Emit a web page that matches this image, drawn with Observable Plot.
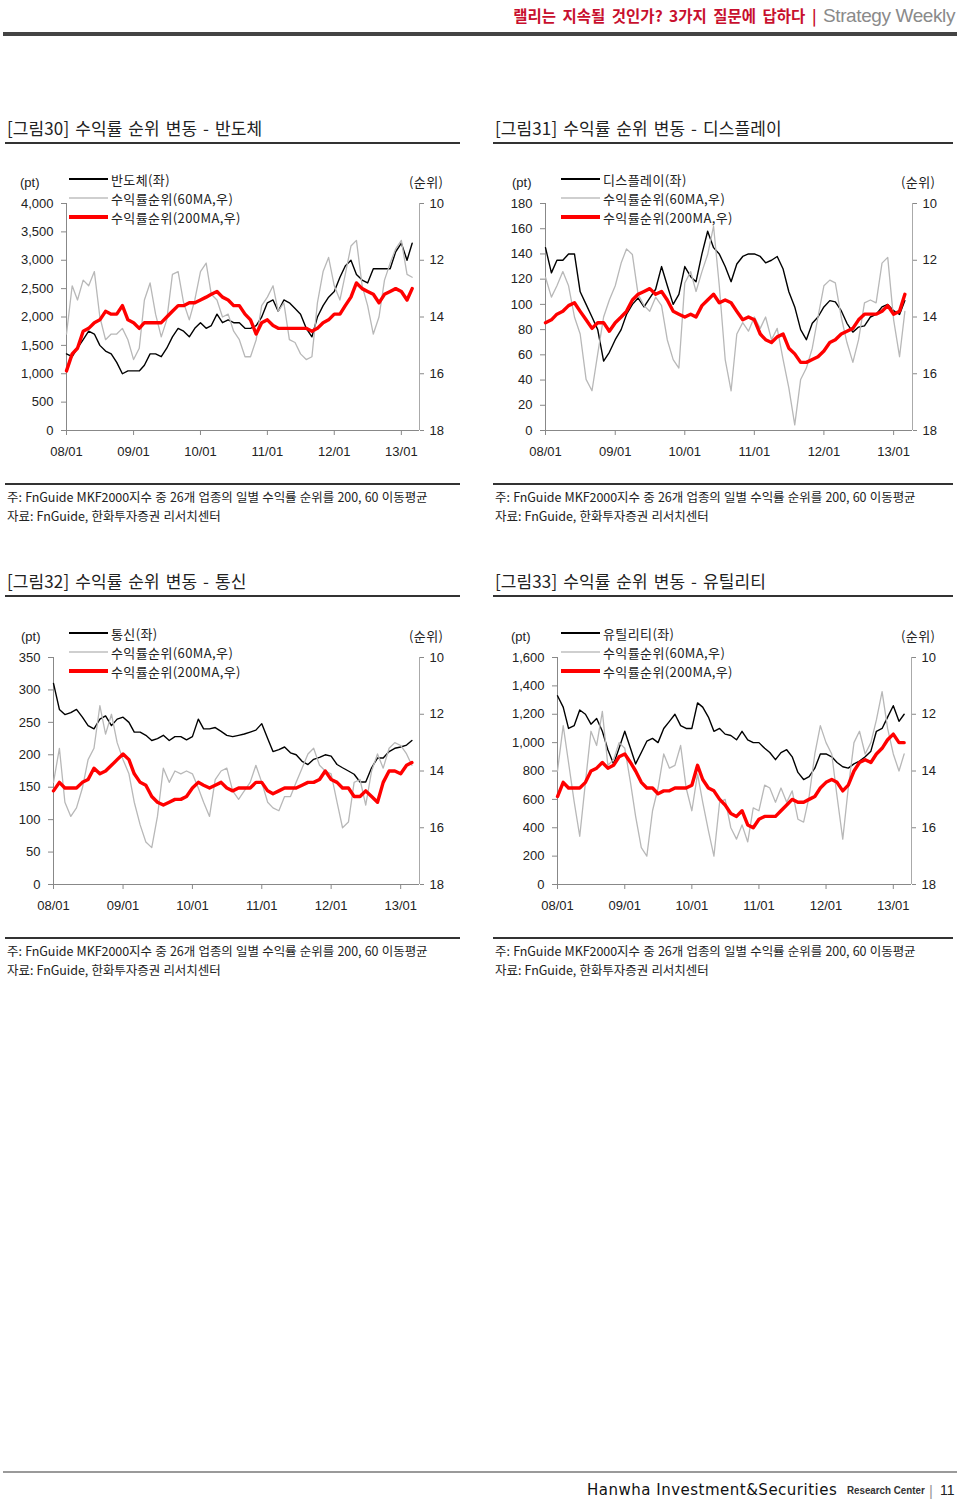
<!DOCTYPE html>
<html><head><meta charset="utf-8">
<script src="https://cdn.jsdelivr.net/npm/d3@7"></script>
<script src="https://cdn.jsdelivr.net/npm/@observablehq/plot@0.6"></script>
<style>
body{margin:0;background:#fff;}
#page{position:relative;width:960px;height:1501px;overflow:hidden;background:#fff;font-family:"Noto Sans CJK KR","Noto Sans",sans-serif;color:#222;}
.a{position:absolute;white-space:nowrap;}
.vc{transform:translateY(-50%);line-height:1;}
.title{font-size:17px;color:#222;word-spacing:2px;letter-spacing:0.1px;}
.note{font-size:12.5px;letter-spacing:-0.05px;word-spacing:0.5px;color:#222;}
.hr{position:absolute;background:#333;}
.lg{font-size:13px;letter-spacing:0.4px;color:#222;}
.ax{font-family:"Liberation Sans",Arial,sans-serif;font-size:13px;color:#222;}
</style></head>
<body><div id="page"></div>
<script>
// ---------- data ----------
const months = d3.utcMonth.range(new Date("2008-01-01"), new Date("2013-04-01")); // 2008-01 .. 2013-03
const yearTicks = [2008,2009,2010,2011,2012,2013].map(y => new Date(Date.UTC(y,0,1)));
const xDomain = [new Date("2008-01-01"), new Date("2013-04-10")];
const rankTicks = [10,12,14,16,18];

// 반도체
const semiPrice = [1350,1300,1450,1600,1750,1700,1500,1400,1350,1200,1000,1050,
 1050,1050,1150,1350,1350,1300,1450,1650,1800,1750,1650,1800,
 1900,1800,1850,2050,1900,1950,1900,1900,1800,1800,1850,2000,
 2250,2300,2100,2300,2250,2150,2050,1800,1650,2000,2200,2350,
 2450,2700,2900,3000,2750,2650,2600,2850,2850,2850,2850,3150,
 3300,3000,3300];
const semiRank60 = [14.6,12.9,13.4,12.7,12.9,12.4,14.0,14.8,14.6,14.6,14.4,14.8,
 15.5,15.1,13.4,12.8,13.9,14.7,14.1,12.5,12.4,13.5,14.1,13.4,
 12.4,12.1,13.2,13.4,14.0,13.9,14.5,14.8,15.4,15.4,14.8,13.6,
 13.3,12.9,13.8,13.5,14.8,14.9,15.3,15.5,15.4,13.5,12.4,11.9,
 12.9,13.4,12.5,11.5,11.3,12.9,13.6,14.6,14.0,12.7,12.1,11.6,
 11.3,12.5,12.6];
const semiRank200 = [15.9,15.3,15.1,14.5,14.4,14.2,14.1,13.8,13.9,13.9,13.6,14.1,
 14.2,14.4,14.2,14.2,14.2,14.2,14.0,13.8,13.6,13.6,13.5,13.5,
 13.4,13.3,13.2,13.1,13.3,13.4,13.6,13.6,13.9,14.1,14.6,14.2,
 14.1,14.3,14.4,14.4,14.4,14.4,14.4,14.4,14.5,14.4,14.2,14.1,
 13.9,13.9,13.6,13.3,12.8,13.0,13.1,13.2,13.5,13.2,13.1,13.0,
 13.1,13.4,13.0];

// 디스플레이
const dispPrice = [145,125,135,135,140,140,110,100,90,80,55,62,
 72,80,92,100,105,98,105,112,130,115,100,108,
 130,122,118,140,158,145,140,130,118,132,138,140,
 140,138,133,135,138,128,110,98,80,72,85,90,
 98,103,102,95,85,78,82,83,90,92,98,100,
 95,92,103];
const dispRank60 = [12.6,13.3,12.9,12.4,12.9,14.0,14.6,16.2,16.6,15.3,14.0,13.4,
 12.9,12.1,11.6,11.8,13.2,13.6,13.8,13.3,13.6,14.8,15.5,15.8,
 12.8,12.4,13.1,12.4,11.8,10.8,12.9,15.5,16.6,14.6,14.2,14.5,
 14.0,14.4,14.0,14.8,14.4,15.5,16.5,17.8,16.2,15.8,15.1,14.0,
 12.9,12.7,12.8,14.0,14.9,15.6,14.8,13.5,13.4,13.5,12.1,11.9,
 14.1,15.4,13.8];
const dispRank200 = [14.2,14.1,13.9,13.8,13.6,13.5,13.8,14.1,14.4,14.2,14.2,14.5,
 14.2,14.0,13.8,13.4,13.2,13.1,13.0,13.2,13.1,13.4,13.8,13.9,
 14.0,13.9,14.0,13.6,13.4,13.2,13.5,13.4,13.5,13.8,14.1,14.0,
 14.1,14.6,14.8,14.9,14.7,14.6,15.1,15.3,15.6,15.6,15.5,15.4,
 15.2,14.9,14.8,14.6,14.5,14.4,14.1,13.9,13.9,13.9,13.8,13.6,
 13.9,13.8,13.2];

// 통신
const telPrice = [310,270,262,265,270,258,245,240,255,260,245,255,
 258,250,235,235,230,222,225,230,222,228,228,223,
 228,255,240,240,242,236,230,228,230,232,235,238,
 248,225,205,208,212,203,200,190,185,193,196,200,
 198,185,180,175,170,158,158,180,195,195,205,210,
 212,215,222];
const telRank60 = [14.4,13.2,15.1,15.6,15.3,14.6,13.6,13.2,11.7,12.7,12.0,13.0,
 13.6,14.1,15.1,15.9,16.5,16.7,15.6,13.9,14.4,14.0,14.1,14.0,
 14.1,14.6,15.1,15.6,14.3,14.0,13.9,14.7,15.0,14.7,14.4,13.8,
 14.4,15.1,15.3,15.4,14.9,14.9,14.4,13.9,13.4,13.2,13.8,14.0,
 14.1,15.1,16.0,15.8,14.4,14.3,15.2,14.0,13.4,13.9,13.2,13.0,
 13.1,13.4,13.8];
const telRank200 = [14.7,14.4,14.6,14.6,14.6,14.4,14.3,13.9,14.1,14.0,13.8,13.6,
 13.4,13.6,14.1,14.4,14.5,14.9,15.1,15.2,15.1,15.0,15.0,14.9,
 14.6,14.4,14.5,14.6,14.5,14.4,14.6,14.7,14.6,14.6,14.6,14.4,
 14.4,14.7,14.8,14.7,14.6,14.6,14.6,14.5,14.4,14.4,14.3,14.0,
 14.3,14.4,14.6,14.6,14.9,14.9,14.7,14.9,15.1,14.4,14.0,14.0,
 14.1,13.8,13.7];

// 유틸리티
const utilPrice = [1330,1250,1100,1120,1230,1200,1130,1170,1080,950,850,960,
 1080,960,850,930,1010,1030,1000,1100,1150,1200,1120,1100,
 1100,1280,1250,1180,1080,1100,1060,1050,1020,1080,1020,1000,
 1000,960,930,880,930,950,900,790,740,760,820,920,
 920,900,860,830,820,850,870,900,940,1080,1100,1180,
 1260,1150,1200];
const utilRank60 = [14.0,12.4,13.7,15.1,16.3,14.4,12.6,13.1,11.9,13.8,13.6,13.0,
 13.2,14.4,15.6,16.7,17.0,15.4,14.6,13.4,13.9,13.8,13.1,14.6,
 15.4,14.1,15.1,16.1,17.0,15.1,15.0,16.0,16.4,15.9,16.5,15.3,
 15.4,14.5,14.6,15.1,14.6,15.1,14.7,15.7,15.8,14.9,13.4,12.4,
 13.0,13.4,14.9,16.4,14.6,13.0,12.6,13.4,13.0,12.2,11.2,12.5,
 13.4,14.0,13.4];
const utilRank200 = [14.9,14.4,14.6,14.6,14.6,14.4,14.0,13.9,13.7,13.9,13.8,13.5,
 13.4,13.7,14.0,14.4,14.6,14.6,14.8,14.7,14.7,14.6,14.6,14.6,
 14.5,13.8,14.3,14.6,14.7,15.0,15.2,15.5,15.6,15.4,15.9,16.0,
 15.7,15.6,15.6,15.6,15.4,15.2,15.0,15.1,15.1,15.0,14.9,14.6,
 14.4,14.3,14.4,14.7,14.5,14.0,13.7,13.6,13.7,13.4,13.2,12.9,
 12.7,13.0,13.0];

// ---------- layout helpers ----------
const page = document.getElementById("page");
function el(html, cls, x, y, extra) {
  const d = document.createElement("div");
  d.className = "a " + (cls || "");
  d.innerHTML = html;
  d.style.left = x + "px"; d.style.top = y + "px";
  if (extra) Object.assign(d.style, extra);
  page.appendChild(d);
  return d;
}
function hr(x, y, w, h, color) {
  const d = document.createElement("div");
  d.className = "hr";
  Object.assign(d.style, {left: x+"px", top: y+"px", width: w+"px", height: h+"px", background: color || "#333"});
  page.appendChild(d);
}

// header
el('<span style="color:#c8102e;font-weight:bold;word-spacing:3px;">랠리는 지속될 것인가? 3가지 질문에 답하다 | </span><span style="color:#8a8a8a;font-family:\'Liberation Sans\',Arial,sans-serif;font-size:19px;letter-spacing:-0.4px;">Strategy Weekly</span>', "vc", 0, 15,
  {right:"5px", left:"auto", fontSize:"15.5px", letterSpacing:"0px"});
hr(3, 32, 954, 4, "#444");

// ---------- chart builder ----------
function chart(cfg) {
  const W = 470, H = 300, mt = 43, mb = 30;
  const wrap = document.createElement("div");
  wrap.className = "a";
  wrap.style.left = cfg.left + "px"; wrap.style.top = cfg.top + "px";
  wrap.style.width = W + "px"; wrap.style.height = H + "px";
  page.appendChild(wrap);

  const priceData = months.map((d, i) => ({date: d, v: cfg.price[i]}));
  const r60 = months.map((d, i) => ({date: d, v: cfg.rank60[i]}));
  const r200 = months.map((d, i) => ({date: d, v: cfg.rank200[i]}));
  const common = {width: W, height: H, marginTop: mt, marginBottom: mb, marginLeft: cfg.ml, marginRight: cfg.mr,
    style: {fontFamily: "'Liberation Sans', Arial, sans-serif", fontSize: "13px", color: "#222", background: "transparent", overflow: "visible"}};

  const p1 = Plot.plot({
    ...common,
    x: {type: "utc", domain: xDomain, axis: null},
    y: {domain: [0, cfg.yMax], axis: null},
    marks: [
      Plot.ruleY([0], {stroke: "#888", strokeWidth: 1}),
      Plot.ruleX([xDomain[0]], {stroke: "#888", strokeWidth: 1}),
      Plot.axisY({ticks: cfg.yTicks, tickFormat: d3.format(","), tickSize: 5, tickPadding: 8, stroke: "#888", fill: "#222", label: null}),
      Plot.axisX({ticks: yearTicks, tickFormat: d3.utcFormat("%y/%m"), tickSize: 5, tickPadding: 11, stroke: "#888", fill: "#222", label: null}),
      Plot.lineY(priceData, {x: "date", y: "v", stroke: "#000", strokeWidth: 1.4})
    ]
  });
  p1.style.position = "absolute"; p1.style.left = "0"; p1.style.top = "0";
  wrap.appendChild(p1);

  const p2 = Plot.plot({
    ...common,
    x: {type: "utc", domain: xDomain, axis: null},
    y: {domain: [18, 10], axis: null},
    marks: [
      Plot.ruleX([xDomain[1]], {stroke: "#aaa", strokeWidth: 1}),
      Plot.axisY({anchor: "right", ticks: rankTicks, tickSize: 4, tickPadding: 6, stroke: "#888", fill: "#222", label: null}),
      Plot.lineY(r60, {x: "date", y: "v", stroke: "#b8b8b8", strokeWidth: 1.3}),
      Plot.lineY(r200, {x: "date", y: "v", stroke: "#ff0000", strokeWidth: 3.4})
    ]
  });
  p2.style.position = "absolute"; p2.style.left = "0"; p2.style.top = "0";
  wrap.appendChild(p2);

  // unit labels
  el("(pt)", "ax vc", cfg.left + cfg.ptX, cfg.top + 22);
  el("(순위)", "lg vc", cfg.left + cfg.rkX, cfg.top + 21);
  // legend
  const rows = [[cfg.name, "#000", 2], ["수익률순위(60MA,우)", "#cfcfcf", 1.5], ["수익률순위(200MA,우)", "#ff0000", 3.5]];
  rows.forEach((r, i) => {
    const y = cfg.top + 19 + i * 19;
    hr(cfg.left + cfg.lgX, y - r[2] / 2, 39, r[2], r[1]);
    el(r[0], "lg vc", cfg.left + cfg.lgX + 42, y);
  });
}

function section(x, y, w, title, bottomY) {
  el(title, "title vc", x + 2, y);
  hr(x, y + 15, w, 1.5, "#333");
  hr(x, bottomY, w, 1.5, "#333");
  el("주: FnGuide MKF2000지수 중 26개 업종의 일별 수익률 순위를 200, 60 이동평균", "note vc", x + 2, bottomY + 14);
  el("자료: FnGuide, 한화투자증권 리서치센터", "note vc", x + 2, bottomY + 33);
}

section(5, 127, 455, "[그림30] 수익률 순위 변동 - 반도체", 483);
section(493, 127, 460, "[그림31] 수익률 순위 변동 - 디스플레이", 483);
section(5, 580, 455, "[그림32] 수익률 순위 변동 - 통신", 937);
section(493, 580, 460, "[그림33] 수익률 순위 변동 - 유틸리티", 937);

chart({left: 0, top: 160, ml: 66, mr: 51, yMax: 4000, yTicks: d3.range(0, 4001, 500),
  price: semiPrice, rank60: semiRank60, rank200: semiRank200, name: "반도체(좌)", ptX: 20, rkX: 409, lgX: 69});
chart({left: 490, top: 160, ml: 55, mr: 48, yMax: 180, yTicks: d3.range(0, 181, 20),
  price: dispPrice, rank60: dispRank60, rank200: dispRank200, name: "디스플레이(좌)", ptX: 22, rkX: 411, lgX: 71});
chart({left: 0, top: 614, ml: 53, mr: 51, yMax: 350, yTicks: d3.range(0, 351, 50),
  price: telPrice, rank60: telRank60, rank200: telRank200, name: "통신(좌)", ptX: 21, rkX: 409, lgX: 69});
chart({left: 490, top: 614, ml: 67, mr: 49, yMax: 1600, yTicks: d3.range(0, 1601, 200),
  price: utilPrice, rank60: utilRank60, rank200: utilRank200, name: "유틸리티(좌)", ptX: 21, rkX: 411, lgX: 71});

// footer
hr(3, 1471, 954, 2, "#9a9a9a");
el("Hanwha Investment&amp;Securities", "vc", 587, 1490, {fontFamily: "'DejaVu Sans',sans-serif", fontSize: "15px", letterSpacing: "0.5px", color: "#111"});
el("Research Center", "vc", 847, 1491, {fontFamily: "'Liberation Sans',Arial,sans-serif", fontSize: "11.5px", fontWeight: "bold", color: "#333", transform: "translateY(-50%) scaleX(0.85)", transformOrigin: "left center"});
el("|", "vc", 929, 1490, {fontFamily: "'Liberation Sans',Arial,sans-serif", fontSize: "15px", color: "#999"});
el("11", "vc", 940, 1490, {fontFamily: "'Liberation Sans',Arial,sans-serif", fontSize: "14px", color: "#222"});
</script></body></html>
